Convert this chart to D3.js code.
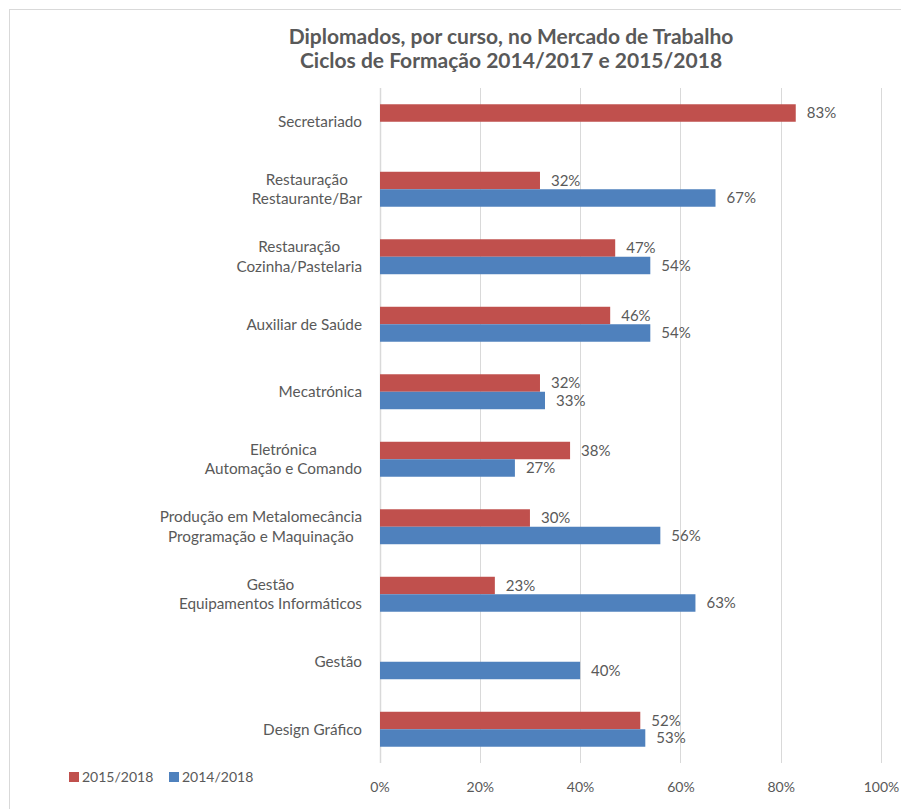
<!DOCTYPE html>
<html>
<head>
<meta charset="utf-8">
<script src="https://cdn.jsdelivr.net/npm/d3@7"></script>
<style>
  html, body { margin: 0; padding: 0; background: #fff; }
  svg { display: block; font-family: Lato, "Open Sans", sans-serif; }
</style>
</head>
<body>
<svg id="chart" width="901" height="809"></svg>
<script>
// Courses (each entry is the lines of its label)
const categories = [
  ["Secretariado"],
  ["Restauração", "Restaurante/Bar"],
  ["Restauração", "Cozinha/Pastelaria"],
  ["Auxiliar de Saúde"],
  ["Mecatrónica"],
  ["Eletrónica", "Automação e Comando"],
  ["Produção em Metalomecância", "Programação e Maquinação"],
  ["Gestão", "Equipamentos Informáticos"],
  ["Gestão"],
  ["Design Gráfico"]
];
const seriesNames = ["2015/2018", "2014/2018"];
const values2015 = [83, 32, 47, 46, 32, 38, 30, 23, null, 52];
const values2014 = [null, 67, 54, 54, 33, 27, 56, 63, 40, 53];
const tickValues = [0, 20, 40, 60, 80, 100];
const titleLines = [
  "Diplomados, por curso, no Mercado de Trabalho",
  "Ciclos de Formação 2014/2017 e 2015/2018"
];

const colors = { "2015/2018": "#C0504D", "2014/2018": "#4F81BD" };
const textColor = "#595959";
const gridColor = "#D9D9D9";

const svg = d3.select("#chart");
svg.append("rect").attr("width", 901).attr("height", 809).attr("fill", "#fff");

// outer frame
svg.append("rect")
  .attr("x", 9.5).attr("y", 9.5)
  .attr("width", 1000).attr("height", 1000)
  .attr("fill", "none").attr("stroke", gridColor).attr("stroke-width", 1);

const keys = categories.map((c, i) => "c" + i);
const x = d3.scaleLinear().domain([0, 100]).range([379.5, 881]);
const y = d3.scaleBand().domain(keys).range([88, 763]).padding(0);
const ySub = d3.scaleBand().domain(seriesNames).range([0, y.bandwidth()])
  .paddingInner(0).paddingOuter(0.93);

// title
svg.append("g").selectAll("text").data(titleLines).join("text")
  .attr("x", 511).attr("y", (d, i) => 44 + i * 24)
  .attr("text-anchor", "middle")
  .attr("font-size", 21).attr("font-weight", "bold")
  .attr("fill", textColor)
  .text(d => d);

// gridlines
svg.append("g").selectAll("line").data(tickValues).join("line")
  .attr("x1", d => Math.round(x(d)) + 0.5).attr("x2", d => Math.round(x(d)) + 0.5)
  .attr("y1", 88).attr("y2", 763)
  .attr("stroke", gridColor).attr("stroke-width", d => d === 0 ? 1.5 : 1);

// x-axis tick labels
const xAxis = d3.axisBottom(x).tickValues(tickValues).tickSize(0).tickPadding(0)
  .tickFormat(d => d + "%");
const gx = svg.append("g").attr("transform", "translate(0,780)").call(xAxis);
gx.select(".domain").remove();
gx.selectAll("text").attr("font-size", 14).attr("fill", textColor)
  .attr("font-family", "Lato, sans-serif").attr("dy", "0.85em");

// rows
const rows = categories.map((lines, i) => ({
  key: keys[i], lines,
  vals: [
    { s: "2015/2018", v: values2015[i] },
    { s: "2014/2018", v: values2014[i] }
  ]
}));

const g = svg.append("g");
const bars = g.selectAll("g.row").data(rows).join("g").attr("class", "row")
  .attr("transform", d => `translate(0,${y(d.key)})`);

bars.selectAll("rect").data(d => d.vals.filter(e => e.v != null)).join("rect")
  .attr("x", x(0) + 0.5)
  .attr("y", e => ySub(e.s))
  .attr("width", e => x(e.v) - x(0) - 0.5)
  .attr("height", ySub.bandwidth())
  .attr("fill", e => colors[e.s]);

bars.selectAll("text.val").data(d => d.vals.filter(e => e.v != null)).join("text")
  .attr("class", "val")
  .attr("x", e => x(e.v) + 11)
  .attr("y", e => ySub(e.s) + ySub.bandwidth() / 2)
  .attr("dy", "0.35em")
  .attr("font-size", 15).attr("fill", textColor)
  .text(e => e.v + "%");

// category labels: lines centered on each other, block right-aligned
const labelRight = 362;
rows.forEach(r => {
  const cy = y(r.key) + y.bandwidth() / 2;
  const lg = svg.append("g");
  const n = r.lines.length;
  const ts = lg.selectAll("text").data(r.lines).join("text")
    .attr("y", (d, i) => cy + (i - (n - 1) / 2) * 19.5)
    .attr("dy", "0.35em")
    .attr("font-size", 15.3).attr("fill", textColor)
    .attr("text-anchor", "middle")
    .text(d => d);
  let maxW = 0;
  ts.each(function () { maxW = Math.max(maxW, this.getComputedTextLength()); });
  ts.attr("x", labelRight - maxW / 2);
});

// legend
const legendX = [69, 169];
const lg = svg.append("g").selectAll("g").data(seriesNames).join("g")
  .attr("transform", (d, i) => `translate(${legendX[i]},772)`);
lg.append("rect").attr("width", 10).attr("height", 10).attr("fill", d => colors[d]);
lg.append("text").attr("x", 13).attr("y", 10)
  .attr("font-size", 14).attr("fill", textColor).text(d => d);
</script>
</body>
</html>
